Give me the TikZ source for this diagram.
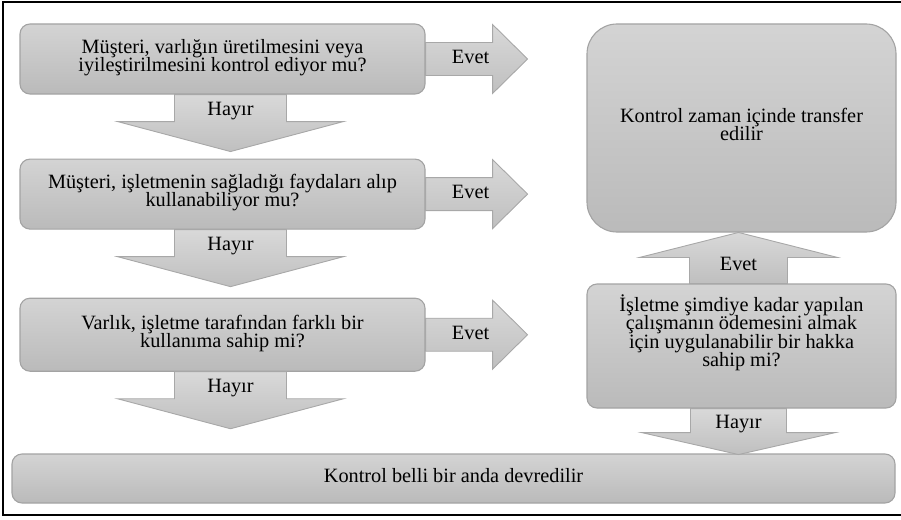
\documentclass[tikz,border=0pt]{standalone}
\usepackage{fontspec}
\setmainfont{Liberation Serif}
\usetikzlibrary{positioning,calc}
\newcommand\boxfont{\fontsize{20.3}{18.3}\selectfont\lineskiplimit=-20pt\relax}

\begin{document}
\begin{tikzpicture}[x=1pt,y=-1pt,
    txt/.style = {font=\boxfont},
    box/.style = {txt, draw=black!36, line width=1.1pt, rounded corners=10pt,
        top color=black!17, bottom color=black!27, align=center, inner sep=0pt, text depth=7pt},
    blk/.style = {draw=black!34, line width=0.9pt, top color=black!15, bottom color=black!25}]
\useasboundingbox (0,0) rectangle (901,519);
\draw[line width=2pt] (3,2) rectangle (910,515);

\node[box, minimum width=405pt, minimum height=70pt] (q1) at (222.5,59)
    {Müşteri, varlığın üretilmesini veya\\iyileştirilmesini kontrol ediyor mu?};
\node[box, minimum width=405pt, minimum height=70pt, below=64pt of q1] (q2)
    {Müşteri, işletmenin sağladığı faydaları alıp\\kullanabiliyor mu?};
\node[box, minimum width=405pt, minimum height=73pt, below=68pt of q2] (q3)
    {Varlık, işletme tarafından farklı bir\\kullanıma sahip mi?};
\node[box, rounded corners=30pt, minimum width=309pt, minimum height=208pt] (r1) at (741.5,128)
    {Kontrol zaman içinde transfer\\edilir};
\node[box, minimum width=309pt, minimum height=124pt, text depth=31pt] (q4) at (741.5,346)
    {İşletme şimdiye kadar yapılan\\çalışmanın ödemesini almak\\için uygulanabilir bir hakka\\sahip mi?};
\node[box, minimum width=883pt, minimum height=49pt] (bot) at (453.5,478.5)
    {Kontrol belli bir anda devredilir};

\foreach \q in {q1,q2,q3} {
    \draw[blk] (\q.east) ++(0,-16.5) -- ++(67,0) -- ++(0,-18) -- ++(35,34.5)
        -- ++(-35,34.5) -- ++(0,-18) -- ++(-67,0) -- cycle;
    \node[txt] (evet-\q) at ($(\q.east)+(45,-2)$) {Evet};
    \draw[blk] (\q.south) ++(-48,0) -- ++(0,27) -- ++(-57,0) -- ++(113,30)
        -- ++(113,-30) -- ++(-57,0) -- ++(0,-27) -- cycle;
    \node[txt] (hayir-\q) at ($(\q.south)+(8,16)$) {Hayır};
}

\draw[blk] (q4.north) ++(-52,0) -- ++(0,-26) -- ++(-50,0) -- ++(99,-25)
    -- ++(99,25) -- ++(-50,0) -- ++(0,26) -- cycle;
\node[txt] (evet-q4) at ($(q4.north)+(-3,-20)$) {Evet};
\draw[blk] (q4.south) ++(-51,0) -- ++(0,24) -- ++(-49,0) -- ++(97,22)
    -- ++(97,-22) -- ++(-49,0) -- ++(0,-24) -- cycle;
\node[txt] (hayir-q4) at ($(q4.south)+(-3,15)$) {Hayır};
\end{tikzpicture}
\end{document}
